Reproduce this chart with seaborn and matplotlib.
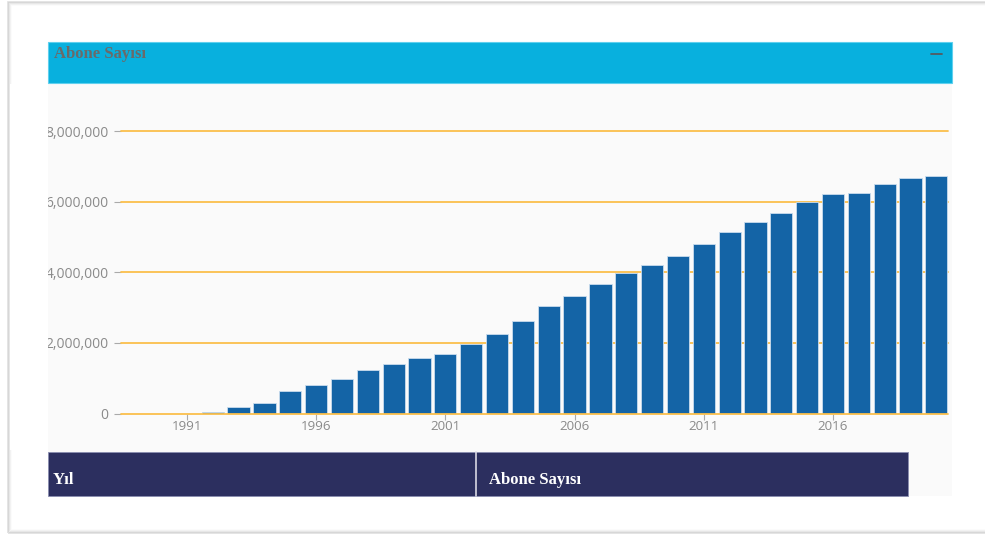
import matplotlib
matplotlib.use("Agg")
import matplotlib.pyplot as plt
import seaborn as sns
import pandas as pd
from matplotlib.patches import Rectangle
from matplotlib.lines import Line2D

years = list(range(1992, 2021))
subscribers = [50000, 170000, 290000, 630000, 820000, 970000, 1235000, 1400000,
               1575000, 1690000, 1975000, 2255000, 2625000, 3040000, 3340000,
               3680000, 3990000, 4210000, 4470000, 4810000, 5130000, 5430000,
               5690000, 6000000, 6220000, 6260000, 6500000, 6680000, 6720000]
x_ticks = [1991, 1996, 2001, 2006, 2011, 2016]
y_ticks = [0, 2000000, 4000000, 6000000, 8000000]
y_tick_labels = ["0", "2,000,000", "4,000,000", "6,000,000", "8,000,000"]
title = "Abone Sayısı"
table_cols = ["Yıl", "Abone Sayısı"]

df = pd.DataFrame({"Yıl": years, "Abone": subscribers})

sns.set_theme(style="white")
plt.rcParams["font.family"] = ["Open Sans", "DejaVu Sans"]

W, H = 985, 537
fig = plt.figure(figsize=(W / 100, H / 100), dpi=100)
fig.patch.set_facecolor("white")

def fx(px):
    return px / W

def fy(py):
    return 1 - py / H

# outer frame with shadow
for i, a in enumerate([0.25, 0.15, 0.08, 0.04]):
    fig.add_artist(Rectangle((fx(8 + i), fy(533 - i)), fx(990 - 8 - 2 * i), (533 - 2 - 2 * i) / H,
                             transform=fig.transFigure, facecolor="none",
                             edgecolor=(0.5, 0.5, 0.5, a), linewidth=1.2, zorder=0))

# panel background
fig.add_artist(Rectangle((fx(48), fy(496)), fx(952 - 48), (496 - 83) / H,
                         transform=fig.transFigure, facecolor="#fafafa",
                         edgecolor="none", zorder=0))
# header
fig.add_artist(Rectangle((fx(48), fy(83)), fx(952 - 48), (83 - 42) / H,
                         transform=fig.transFigure, facecolor="#08b0de",
                         edgecolor="#5fd0ee", linewidth=0.8, zorder=1))
fig.text(fx(54), fy(54), title, family=["Liberation Serif", "DejaVu Serif"],
         fontweight="bold", fontsize=12, color="#6a6a6a", va="center", ha="left", zorder=2)
fig.add_artist(Line2D([fx(931), fx(942)], [fy(54), fy(54)], transform=fig.transFigure,
                      color="#555a60", linewidth=1.3, zorder=2))

# axes
ax_left, ax_right = 121, 948
ax_top, ax_bottom = 100, 413.5
ax = fig.add_axes([fx(ax_left), fy(ax_bottom), fx(ax_right - ax_left), (ax_bottom - ax_top) / H])
ax.set_facecolor("none")

sns.barplot(data=df, x="Yıl", y="Abone", native_scale=True, width=0.86,
            color="#1464a6", saturation=1, edgecolor="#c9dcee", linewidth=0.6,
            ax=ax, zorder=3)

ax.set_xlim(1988.45, 2020.45)
ax.set_ylim(0, (ax_bottom - ax_top) / 35.3 * 1e6)
ax.set_yticks(y_ticks)
ax.set_yticklabels(y_tick_labels)
ax.set_xticks(x_ticks)
ax.set_xticklabels([str(t) for t in x_ticks])
for yv in y_ticks:
    ax.axhline(yv, color="#fbbf4c", linewidth=1.3, zorder=2 if yv else 4, clip_on=False)
for s in ax.spines.values():
    s.set_visible(False)
ax.set_xlabel("")
ax.set_ylabel("")
ax.tick_params(axis="y", length=5, width=0.8, color="#aaaaaa", labelcolor="#8a8a8a",
               labelsize=10, pad=4, left=True)
ax.tick_params(axis="x", length=4, width=0.8, color="#aaaaaa", labelcolor="#8a8a8a",
               labelsize=9.6, pad=1, bottom=True, direction="out")
ax.grid(False)

# white cover left of panel to clip y labels
fig.add_artist(Rectangle((fx(10), fy(450)), fx(48 - 10), (450 - 84) / H,
                         transform=fig.transFigure, facecolor="white", edgecolor="none", zorder=10))

# table header
fig.add_artist(Rectangle((fx(48), fy(496)), fx(908 - 48), (496 - 452) / H,
                         transform=fig.transFigure, facecolor="#2c2f5f",
                         edgecolor="#8a8db0", linewidth=0.6, zorder=11))
fig.add_artist(Line2D([fx(476), fx(476)], [fy(452), fy(496)], transform=fig.transFigure,
                      color="#d8d8e4", linewidth=1.2, zorder=12))
fig.text(fx(53), fy(480), table_cols[0], family=["Liberation Serif", "DejaVu Serif"],
         fontweight="bold", fontsize=12, color="white", va="center", ha="left", zorder=13)
fig.text(fx(489), fy(480), table_cols[1], family=["Liberation Serif", "DejaVu Serif"],
         fontweight="bold", fontsize=12, color="white", va="center", ha="left", zorder=13)

fig.savefig("out.png", dpi=100, facecolor="white")
